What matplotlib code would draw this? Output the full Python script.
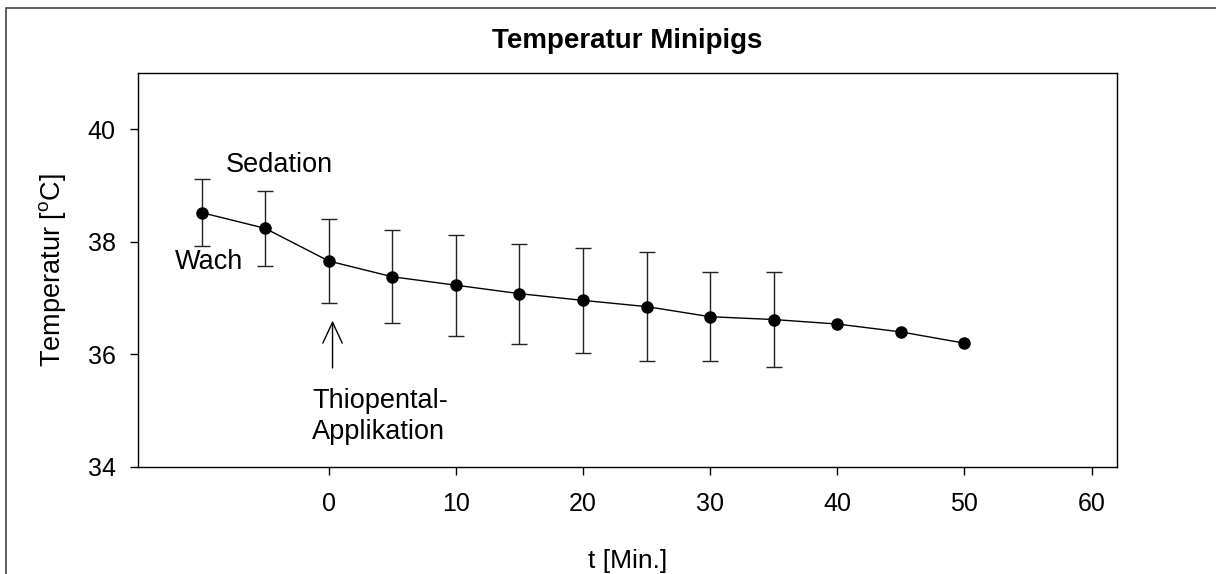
import matplotlib
matplotlib.use("Agg")
import matplotlib.pyplot as plt
from matplotlib.patches import Rectangle

plt.rcParams['font.family'] = ['Liberation Sans', 'DejaVu Sans']
plt.rcParams['mathtext.fontset'] = 'custom'
plt.rcParams['mathtext.rm'] = 'Liberation Sans'

# time in minutes relative to thiopental application
t_min = [-10, -5, 0, 5, 10, 15, 20, 25, 30, 35, 40, 45, 50]
temp_mean = [38.52, 38.24, 37.66, 37.38, 37.23, 37.08, 36.96, 36.85, 36.67, 36.62, 36.54, 36.40, 36.20]
temp_sd = [0.60, 0.67, 0.74, 0.83, 0.90, 0.89, 0.93, 0.97, 0.79, 0.84, 0, 0, 0]
x_ticks = [0, 10, 20, 30, 40, 50, 60]
y_ticks = [34, 36, 38, 40]

fig = plt.figure(figsize=(12.16, 5.74), dpi=100)
ax = fig.add_axes([138/1216, 1 - 467/574, (1117-138)/1216, (467-73)/574])

# error bars only where an SD exists
n_err = sum(1 for s in temp_sd if s > 0)
ax.errorbar(t_min[:n_err], temp_mean[:n_err], yerr=temp_sd[:n_err], fmt='none',
            ecolor='#222222', elinewidth=1.0, capsize=5.5, capthick=1.0, zorder=2)
ax.plot(t_min, temp_mean, color='black', lw=1.0, marker='o', ms=8, zorder=3)

ax.set_xlim(-15, 62)
ax.set_ylim(34, 41)
ax.set_xticks(x_ticks)
ax.set_yticks(y_ticks)
ax.tick_params(labelsize=18, length=6, width=1)
ax.tick_params(axis='x', pad=12)
ax.tick_params(axis='y', pad=10)
for s in ax.spines.values():
    s.set_linewidth(1.0)

ax.set_title("Temperatur Minipigs", fontsize=20, fontweight='bold', pad=18)
ax.set_xlabel("t [Min.]", fontsize=19, labelpad=24)
ax.set_ylabel("Temperatur [$^{\\mathrm{o}}$C]", fontsize=19.5, labelpad=14)

ax.text(-8.1, 39.36, "Sedation", fontsize=19.5, va='center', ha='left')
ax.text(-12.1, 37.65, "Wach", fontsize=19.5, va='center', ha='left')
ax.text(-1.3, 35.17, "Thiopental-", fontsize=19.5, va='center', ha='left')
ax.text(-1.3, 34.63, "Applikation", fontsize=19.5, va='center', ha='left')
ax.annotate("", xy=(0.3, 36.6), xytext=(0.3, 35.76),
            arrowprops=dict(arrowstyle='->,head_length=0.75,head_width=0.35', mutation_scale=20,
                            color='black', lw=1.0, shrinkA=0, shrinkB=0))

fig.patches.append(Rectangle((6/1216, -0.05), 1.1, 1 - 8/574 + 0.05, transform=fig.transFigure,
                             fill=False, edgecolor='#444444', lw=1.2))

fig.savefig("out.png", dpi=100)
